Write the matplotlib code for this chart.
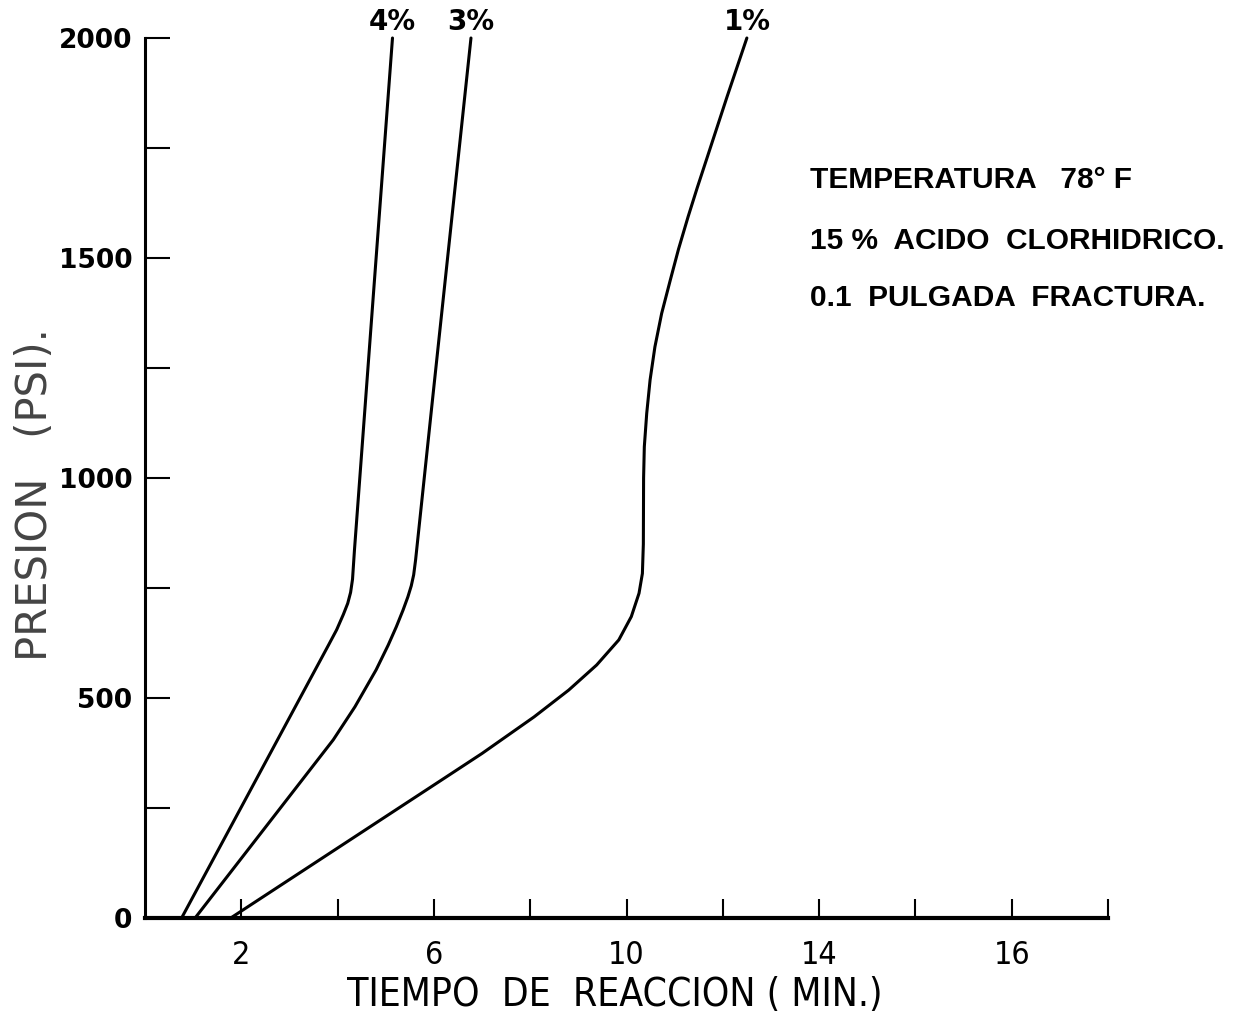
import numpy as np
import matplotlib.pyplot as plt

# lecturas de la figura: tiempo de reaccion (min) para cada presion (psi)
presion_4 = [0, 620, 655, 690, 715, 740, 770, 836, 1412, 2000]
tiempo_4 = [0.76, 3.81, 3.98, 4.12, 4.21, 4.27, 4.31, 4.35, 4.74, 5.14]

presion_3 = [0, 405, 480, 564, 620, 662, 700, 730, 755, 780, 814, 1177, 2000]
tiempo_3 = [1.04, 3.91, 4.36, 4.80, 5.05, 5.22, 5.36, 5.46, 5.53, 5.58, 5.62,
            5.97, 6.77]

presion_1 = [0, 318, 374, 457, 518, 575, 632, 685, 738, 783, 850, 1000, 1071,
             1147, 1223, 1298, 1374, 1450, 1520, 1594, 1660, 1730, 1867, 2000]
tiempo_1 = [1.78, 6.22, 7.00, 8.08, 8.80, 9.38, 9.84, 10.10, 10.26, 10.33,
            10.35, 10.355, 10.37, 10.42, 10.49, 10.59, 10.73, 10.91, 11.08,
            11.28, 11.47, 11.68, 12.09, 12.50]

curvas = [("4%", tiempo_4, presion_4),
          ("3%", tiempo_3, presion_3),
          ("1%", tiempo_1, presion_1)]

x_ticks = [2, 6, 10, 14, 18]
x_ticklabels = ["2", "6", "10", "14", "16"]
x_minor = [4, 8, 12, 16, 20]
y_ticks = [0, 500, 1000, 1500, 2000]
y_minor = [250, 750, 1250, 1750]

notas = ["TEMPERATURA   78° F",
         "15 %  ACIDO  CLORHIDRICO.",
         "0.1  PULGADA  FRACTURA."]

W, H = 1238, 1015
fig = plt.figure(figsize=(W / 100, H / 100), dpi=100)
ax = fig.add_axes([145 / W, 1 - 918 / H, (1108 - 145) / W, 880 / H])

for nombre, t, p in curvas:
    ax.plot(t, p, color="black", lw=2.2, solid_joinstyle="round",
            solid_capstyle="round", clip_on=False)
    ax.annotate(nombre, xy=(t[-1], p[-1]), xytext=(0, 11.5),
                textcoords="offset points", ha="center", va="center",
                fontsize=20, fontweight="bold", family="DejaVu Sans",
                annotation_clip=False)

ax.set_xlim(0, 20)
ax.set_ylim(0, 2000)

for s in ["top", "right"]:
    ax.spines[s].set_visible(False)
ax.spines["left"].set_linewidth(2.2)
ax.spines["bottom"].set_linewidth(3)

ax.set_yticks(y_ticks)
ax.set_yticks(y_minor, minor=True)
ax.set_xticks(x_ticks)
ax.set_xticklabels(x_ticklabels)
ax.set_xticks(x_minor, minor=True)

ax.tick_params(axis="y", which="both", direction="in", length=18, width=1.5)
ax.tick_params(axis="y", which="major", pad=9, labelsize=19)
ax.tick_params(axis="x", which="both", direction="in", length=14, width=1.5)
ax.tick_params(axis="x", which="major", pad=16, labelsize=23)

for lab in ax.get_yticklabels():
    lab.set_fontweight("bold")
    lab.set_family("DejaVu Sans")
for lab in ax.get_xticklabels():
    lab.set_family(["Liberation Sans Narrow", "DejaVu Sans"])
    lab.set_fontstretch("condensed")

fig.text(615 / W, 1 - 995 / H, "TIEMPO  DE  REACCION ( MIN.)", ha="center",
         va="center", fontsize=28, family=["Liberation Sans Narrow", "DejaVu Sans"],
         fontstretch="condensed")
fig.text(35 / W, 1 - 495 / H, "PRESION   (PSI).", rotation=90, ha="center",
         va="center", fontsize=30, color="#444444", family="DejaVu Sans")

for y, linea in zip([180, 241, 298], notas):
    fig.text(810 / W, 1 - y / H, linea, ha="left", va="center",
             fontsize=21.5, fontweight="bold", family="Liberation Sans")

fig.savefig("out.png", dpi=100)
